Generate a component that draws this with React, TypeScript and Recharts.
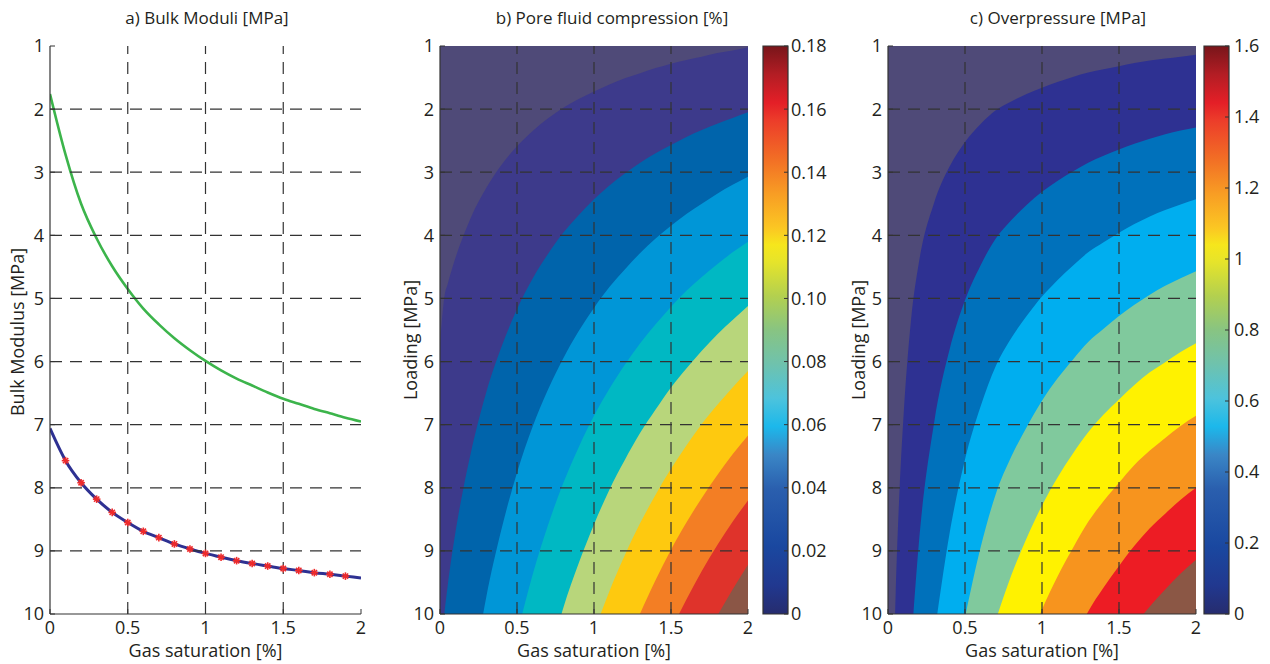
import React from "react";
import { Area, Bar, BarChart, CartesianGrid, ComposedChart, Line, LineChart, ReferenceLine, XAxis, YAxis } from "recharts";

// panel a: bulk moduli against gas saturation
const gasSaturation = [0, 0.1, 0.2, 0.3, 0.4, 0.5, 0.6, 0.7, 0.8, 0.9, 1, 1.1, 1.2, 1.3, 1.4, 1.5, 1.6, 1.7, 1.8, 1.9, 2];
const fluidModulus = [1.76, 2.72, 3.5, 4.05, 4.49, 4.85, 5.16, 5.41, 5.63, 5.82, 5.99, 6.14, 6.27, 6.38, 6.49, 6.59, 6.67, 6.75, 6.82, 6.89, 6.95];
const mixModulus = [7.06, 7.57, 7.92, 8.18, 8.39, 8.55, 8.69, 8.79, 8.89, 8.97, 9.04, 9.1, 9.155, 9.2, 9.24, 9.28, 9.31, 9.345, 9.37, 9.4, 9.43];

const xTicks = [0, 0.5, 1, 1.5, 2];
const yTicks = [1, 2, 3, 4, 5, 6, 7, 8, 9, 10];
const gridX = [0.5, 1, 1.5];
const gridY = [2, 3, 4, 5, 6, 7, 8, 9];

// panel b: contour lines [gas saturation, loading]
const pore002 = [[0, 5.71], [0.03, 4.95], [0.05, 4.77], [0.1, 4.36], [0.15, 4.02], [0.2, 3.72], [0.3, 3.25], [0.4, 2.88], [0.5, 2.59], [0.6, 2.35], [0.7, 2.15], [0.8, 1.98], [0.9, 1.84], [1, 1.72], [1.1, 1.61], [1.2, 1.51], [1.3, 1.43], [1.4, 1.35], [1.5, 1.28], [1.6, 1.22], [1.7, 1.17], [1.8, 1.11], [1.9, 1.07], [2, 1.02]];
const pore004 = [[0.028, 10], [0.05, 9.55], [0.1, 8.71], [0.15, 8.03], [0.2, 7.45], [0.3, 6.49], [0.4, 5.76], [0.5, 5.17], [0.6, 4.69], [0.7, 4.3], [0.8, 3.96], [0.9, 3.68], [1, 3.43], [1.1, 3.21], [1.2, 3.02], [1.3, 2.85], [1.4, 2.7], [1.5, 2.57], [1.6, 2.44], [1.7, 2.33], [1.8, 2.23], [1.9, 2.14], [2, 2.05]];
const pore006 = [[0.28, 10], [0.3, 9.74], [0.4, 8.65], [0.5, 7.76], [0.6, 7.04], [0.7, 6.45], [0.8, 5.95], [0.9, 5.52], [1, 5.15], [1.1, 4.82], [1.2, 4.54], [1.3, 4.28], [1.4, 4.05], [1.5, 3.85], [1.6, 3.66], [1.7, 3.5], [1.8, 3.34], [1.9, 3.2], [2, 3.07]];
const pore008 = [[0.534, 10], [0.6, 9.39], [0.7, 8.6], [0.8, 7.93], [0.9, 7.36], [1, 6.86], [1.1, 6.43], [1.2, 6.05], [1.3, 5.71], [1.4, 5.41], [1.5, 5.13], [1.6, 4.88], [1.7, 4.66], [1.8, 4.46], [1.9, 4.27], [2, 4.1]];
const pore010 = [[0.789, 10], [0.8, 9.91], [0.9, 9.2], [1, 8.58], [1.1, 8.03], [1.2, 7.56], [1.3, 7.13], [1.4, 6.76], [1.5, 6.41], [1.6, 6.11], [1.7, 5.83], [1.8, 5.57], [1.9, 5.34], [2, 5.12]];
const pore012 = [[1.043, 10], [1.1, 9.64], [1.2, 9.07], [1.3, 8.56], [1.4, 8.11], [1.5, 7.7], [1.6, 7.33], [1.7, 6.99], [1.8, 6.69], [1.9, 6.41], [2, 6.15]];
const pore014 = [[1.298, 10], [1.4, 9.46], [1.5, 8.98], [1.6, 8.55], [1.7, 8.16], [1.8, 7.8], [1.9, 7.47], [2, 7.17]];
const pore016 = [[1.552, 10], [1.6, 9.77], [1.7, 9.32], [1.8, 8.91], [1.9, 8.54], [2, 8.2]];
const pore018 = [[1.807, 10], [1.9, 9.61], [2, 9.22]];
const poreContours = [pore002, pore004, pore006, pore008, pore010, pore012, pore014, pore016, pore018];
const poreTicks = [0, 0.02, 0.04, 0.06, 0.08, 0.1, 0.12, 0.14, 0.16, 0.18];
const poreTickLabels = ["0", "0.02", "0.04", "0.06", "0.08", "0.10", "0.12", "0.14", "0.16", "0.18"];

// panel c: contour lines [gas saturation, loading]
const over02 = [[0.046, 10], [0.05, 9.66], [0.075, 8.03], [0.1, 6.9], [0.15, 5.33], [0.2, 4.44], [0.3, 3.48], [0.4, 2.91], [0.5, 2.52], [0.6, 2.24], [0.7, 2.02], [0.8, 1.88], [0.9, 1.76], [1, 1.66], [1.1, 1.57], [1.2, 1.49], [1.3, 1.42], [1.4, 1.37], [1.5, 1.32], [1.6, 1.27], [1.7, 1.23], [1.8, 1.2], [1.9, 1.17], [2, 1.14]];
const over04 = [[0.165, 10], [0.2, 8.89], [0.3, 6.96], [0.4, 5.81], [0.5, 5.03], [0.6, 4.48], [0.7, 4.05], [0.8, 3.76], [0.9, 3.52], [1, 3.31], [1.1, 3.14], [1.2, 2.99], [1.3, 2.85], [1.4, 2.74], [1.5, 2.64], [1.6, 2.55], [1.7, 2.47], [1.8, 2.4], [1.9, 2.34], [2, 2.29]];
const over06 = [[0.32, 10], [0.4, 8.72], [0.5, 7.55], [0.6, 6.72], [0.7, 6.07], [0.8, 5.63], [0.9, 5.28], [1, 4.97], [1.1, 4.71], [1.2, 4.48], [1.3, 4.27], [1.4, 4.11], [1.5, 3.96], [1.6, 3.82], [1.7, 3.7], [1.8, 3.6], [1.9, 3.51], [2, 3.43]];
const over08 = [[0.505, 10], [0.6, 8.96], [0.7, 8.1], [0.8, 7.51], [0.9, 7.04], [1, 6.62], [1.1, 6.27], [1.2, 5.97], [1.3, 5.69], [1.4, 5.48], [1.5, 5.28], [1.6, 5.1], [1.7, 4.94], [1.8, 4.8], [1.9, 4.68], [2, 4.57]];
const over10 = [[0.713, 10], [0.8, 9.39], [0.9, 8.8], [1, 8.28], [1.1, 7.84], [1.2, 7.46], [1.3, 7.12], [1.4, 6.84], [1.5, 6.6], [1.6, 6.37], [1.7, 6.17], [1.8, 6.01], [1.9, 5.85], [2, 5.71]];
const over12 = [[0.988, 10], [1, 9.93], [1.1, 9.41], [1.2, 8.96], [1.3, 8.54], [1.4, 8.21], [1.5, 7.92], [1.6, 7.64], [1.7, 7.41], [1.8, 7.21], [1.9, 7.02], [2, 6.86]];
const over14 = [[1.291, 10], [1.3, 9.96], [1.4, 9.58], [1.5, 9.24], [1.6, 8.92], [1.7, 8.64], [1.8, 8.41], [1.9, 8.19], [2, 8.0]];
const over16 = [[1.659, 10], [1.7, 9.88], [1.8, 9.61], [1.9, 9.36], [2, 9.14]];
const overContours = [over02, over04, over06, over08, over10, over12, over14, over16];
const overTicks = [0, 0.2, 0.4, 0.6, 0.8, 1, 1.2, 1.4, 1.6];
const overTickLabels = ["0", "0.2", "0.4", "0.6", "0.8", "1", "1.2", "1.4", "1.6"];

const poreFills = ["#3d3a8b", "#0064ab", "#0096d7", "#00b8c3", "#b8d67b", "#fec90f", "#f37e24", "#df332b", "#8b5646"];
const overFills = ["#2e3192", "#0071bb", "#00aeef", "#80c99d", "#fff200", "#f7941e", "#ed1c24", "#8b5745"];
const lowFill = "#4f4a78";

const jetStops: [number, string][] = [
  [0, "#262c6e"], [0.05, "#21388f"], [0.12, "#1a48a0"], [0.22, "#2a5fae"], [0.28, "#3a86c6"],
  [0.33, "#1cb8eb"], [0.38, "#4dc3dc"], [0.44, "#6fc2ad"], [0.5, "#88c482"], [0.56, "#b3d04f"],
  [0.62, "#e6e42a"], [0.65, "#f6e61c"], [0.68, "#fbc623"], [0.74, "#f89d24"], [0.8, "#f26f25"],
  [0.87, "#ec3c2a"], [0.9, "#e41f27"], [0.95, "#b31d24"], [1, "#78151a"],
];

const ink = "#231f20";
const axisStroke = "#333333";
const tickStyle = { fill: ink, fontSize: 18 };
const font = "'Open Sans', sans-serif";

const modulusData = gasSaturation.map((x, i) => ({ x, fluid: fluidModulus[i], mix: mixModulus[i] }));
const toPoints = (line: number[][]) => line.map(([x, y]) => ({ x, y }));

function Title({ center, text }: { center: number; text: string }) {
  return (
    <div style={{ position: "absolute", left: center - 200, width: 400, top: 6, textAlign: "center", fontSize: 17, lineHeight: "24px", color: ink }}>
      {text}
    </div>
  );
}

function StarDot(props: any) {
  const { cx, cy, index } = props;
  if (index === 0 || index === gasSaturation.length - 1 || cx == null) return <g key={`s${index}`} />;
  const r = 3.8;
  const d = r * 0.7;
  return (
    <g key={`s${index}`} stroke="#ef2b2b" strokeWidth={1.6}>
      <line x1={cx - r} y1={cy} x2={cx + r} y2={cy} />
      <line x1={cx} y1={cy - r} x2={cx} y2={cy + r} />
      <line x1={cx - d} y1={cy - d} x2={cx + d} y2={cy + d} />
      <line x1={cx - d} y1={cy + d} x2={cx + d} y2={cy - d} />
    </g>
  );
}

// rotated y-axis title, centred at (cx, cy) in chart coordinates
function sideTitle(text: string, cx: number, cy: number) {
  return () => (
    <text
      x={cx}
      y={cy}
      transform={`rotate(-90 ${cx} ${cy})`}
      textAnchor="middle"
      dominantBaseline="central"
      fill={ink}
      fontSize={18}
    >
      {text}
    </text>
  );
}

function frameAxes(yLabel: string, labelX: number, labelY: number) {
  return [
    <XAxis
      key="xb"
      type="number"
      dataKey="x"
      domain={[0, 2]}
      ticks={xTicks}
      allowDataOverflow
      height={50}
      tickSize={-5}
      tickMargin={12}
      tick={tickStyle}
      axisLine={{ stroke: axisStroke, strokeWidth: 1.2 }}
      tickLine={{ stroke: axisStroke }}
      label={{ value: "Gas saturation [%]", position: "insideBottom", offset: 7, style: { fill: ink, fontSize: 18 } }}
    />,
    <XAxis
      key="xt"
      xAxisId="top"
      orientation="top"
      type="number"
      domain={[0, 2]}
      ticks={xTicks}
      height={0}
      tickSize={-5}
      tick={false}
      axisLine={{ stroke: axisStroke, strokeWidth: 1.2 }}
      tickLine={{ stroke: axisStroke }}
    />,
    <YAxis
      key="yl"
      type="number"
      domain={[1, 10]}
      ticks={yTicks}
      reversed
      allowDataOverflow
      width={50}
      tickSize={-5}
      tickMargin={11}
      tick={tickStyle}
      axisLine={{ stroke: axisStroke, strokeWidth: 1.2 }}
      tickLine={{ stroke: axisStroke }}
      label={{ content: sideTitle(yLabel, labelX, labelY) }}
    />,
    <YAxis
      key="yr"
      yAxisId="right"
      orientation="right"
      type="number"
      domain={[1, 10]}
      ticks={yTicks}
      reversed
      width={0}
      tickSize={-5}
      tick={false}
      axisLine={{ stroke: axisStroke, strokeWidth: 1.2 }}
      tickLine={{ stroke: axisStroke }}
    />,
  ];
}

function gridLines() {
  return [
    ...gridX.map((v) => (
      <ReferenceLine key={`gx${v}`} x={v} stroke={axisStroke} strokeWidth={1.2} strokeDasharray="12 8" zIndex={450} />
    )),
    ...gridY.map((v) => (
      <ReferenceLine key={`gy${v}`} y={v} stroke={axisStroke} strokeWidth={1.2} strokeDasharray="12 8" zIndex={450} />
    )),
  ];
}

function ContourPanel({ left, contours, fills }: { left: number; contours: number[][][]; fills: string[] }) {
  return (
    <div style={{ position: "absolute", left, top: 0 }}>
      <ComposedChart width={365} height={664} margin={{ top: 46, right: 7, bottom: 0, left: 0 }}>
        <CartesianGrid fill={lowFill} horizontal={false} vertical={false} />
        {contours.map((line, i) => (
          <Area
            key={i}
            data={toPoints(line)}
            dataKey="y"
            type="monotone"
            baseValue={10}
            fill={fills[i]}
            fillOpacity={1}
            stroke="none"
            isAnimationActive={false}
          />
        ))}
        {gridLines()}
        {frameAxes("Loading [MPa]", 20, 340)}
      </ComposedChart>
    </div>
  );
}

function ColorBar({ left, width, ticks, labels, gradId, labelGap }: { left: number; width: number; ticks: number[]; labels: string[]; gradId: string; labelGap: number }) {
  const top = ticks[ticks.length - 1];
  return (
    <div style={{ position: "absolute", left, top: 0 }}>
      <BarChart width={width} height={664} data={[{ name: "scale", value: top }]} margin={{ top: 46, right: 0, bottom: 50, left: 8 }} barCategoryGap={0}>
        <defs>
          <linearGradient id={gradId} x1="0" y1="1" x2="0" y2="0">
            {jetStops.map(([o, c]) => (
              <stop key={o} offset={o} stopColor={c} />
            ))}
          </linearGradient>
        </defs>
        <XAxis dataKey="name" hide />
        <YAxis
          orientation="right"
          type="number"
          domain={[0, top]}
          ticks={ticks}
          tickFormatter={(_v: number, i: number) => labels[i]}
          width={width - 8 - 25}
          tickSize={-4}
          tickMargin={labelGap}
          tick={tickStyle}
          axisLine={false}
          tickLine={{ stroke: axisStroke }}
        />
        <Bar dataKey="value" fill={`url(#${gradId})`} stroke={axisStroke} strokeWidth={1.2} isAnimationActive={false} />
      </BarChart>
    </div>
  );
}

export default function App() {
  return (
    <div style={{ position: "absolute", left: 0, top: 0, width: 1270, height: 664, background: "#fff", fontFamily: font, overflow: "hidden" }}>
      <Title center={207} text="a) Bulk Moduli [MPa]" />
      <Title center={612} text="b) Pore fluid compression [%]" />
      <Title center={1058} text="c) Overpressure [MPa]" />

      <div style={{ position: "absolute", left: 0, top: 0 }}>
        <LineChart width={372} height={664} data={modulusData} margin={{ top: 46, right: 11, bottom: 0, left: 0 }}>
          {gridLines()}
          <Line dataKey="fluid" type="monotone" stroke="#3cb44b" strokeWidth={2.6} dot={false} isAnimationActive={false} />
          <Line dataKey="mix" type="monotone" stroke="#2e3192" strokeWidth={3} dot={StarDot} isAnimationActive={false} />
          {frameAxes("Bulk Modulus [MPa]", 17, 332)}
        </LineChart>
      </div>

      <ContourPanel left={390} contours={poreContours} fills={poreFills} />
      <ColorBar left={755} width={80} ticks={poreTicks} labels={poreTickLabels} gradId="poreScale" labelGap={7} />

      <ContourPanel left={838} contours={overContours} fills={overFills} />
      <ColorBar left={1196} width={74} ticks={overTicks} labels={overTickLabels} gradId="overScale" labelGap={9} />
    </div>
  );
}
